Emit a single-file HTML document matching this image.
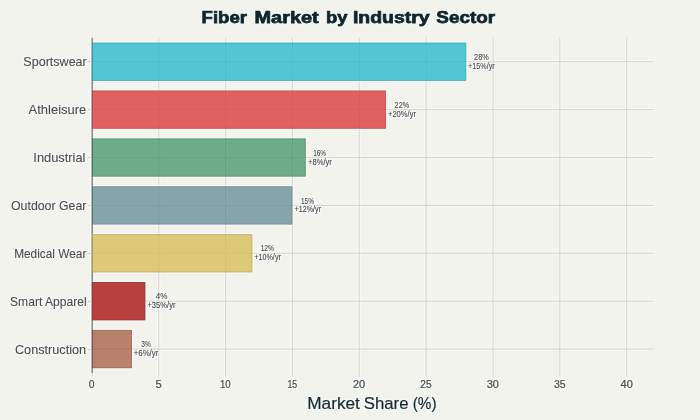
<!DOCTYPE html>
<html><head><meta charset="utf-8"><style>
html,body{margin:0;padding:0;background:#F3F3EE;overflow:hidden;}
svg{display:block;will-change:transform;font-family:"Liberation Sans",Arial,sans-serif;}

</style></head><body>
<svg width="700" height="420" viewBox="0 0 700 420">
<rect x="0" y="0" width="700" height="420" fill="#F3F3EE"/>
<line x1="157.65" y1="37.8" x2="157.65" y2="376.5" stroke="#F8F8F5" stroke-width="1"/>
<line x1="159.85" y1="37.8" x2="159.85" y2="376.5" stroke="#F8F8F5" stroke-width="1"/>
<line x1="224.50" y1="37.8" x2="224.50" y2="376.5" stroke="#F8F8F5" stroke-width="1"/>
<line x1="226.70" y1="37.8" x2="226.70" y2="376.5" stroke="#F8F8F5" stroke-width="1"/>
<line x1="291.35" y1="37.8" x2="291.35" y2="376.5" stroke="#F8F8F5" stroke-width="1"/>
<line x1="293.55" y1="37.8" x2="293.55" y2="376.5" stroke="#F8F8F5" stroke-width="1"/>
<line x1="358.20" y1="37.8" x2="358.20" y2="376.5" stroke="#F8F8F5" stroke-width="1"/>
<line x1="360.40" y1="37.8" x2="360.40" y2="376.5" stroke="#F8F8F5" stroke-width="1"/>
<line x1="425.05" y1="37.8" x2="425.05" y2="376.5" stroke="#F8F8F5" stroke-width="1"/>
<line x1="427.25" y1="37.8" x2="427.25" y2="376.5" stroke="#F8F8F5" stroke-width="1"/>
<line x1="491.90" y1="37.8" x2="491.90" y2="376.5" stroke="#F8F8F5" stroke-width="1"/>
<line x1="494.10" y1="37.8" x2="494.10" y2="376.5" stroke="#F8F8F5" stroke-width="1"/>
<line x1="558.75" y1="37.8" x2="558.75" y2="376.5" stroke="#F8F8F5" stroke-width="1"/>
<line x1="560.95" y1="37.8" x2="560.95" y2="376.5" stroke="#F8F8F5" stroke-width="1"/>
<line x1="625.60" y1="37.8" x2="625.60" y2="376.5" stroke="#F8F8F5" stroke-width="1"/>
<line x1="627.80" y1="37.8" x2="627.80" y2="376.5" stroke="#F8F8F5" stroke-width="1"/>
<line x1="91.90" y1="60.64" x2="653.5" y2="60.64" stroke="#F8F8F5" stroke-width="1"/>
<line x1="91.90" y1="62.84" x2="653.5" y2="62.84" stroke="#F8F8F5" stroke-width="1"/>
<line x1="91.90" y1="108.53" x2="653.5" y2="108.53" stroke="#F8F8F5" stroke-width="1"/>
<line x1="91.90" y1="110.73" x2="653.5" y2="110.73" stroke="#F8F8F5" stroke-width="1"/>
<line x1="91.90" y1="156.41" x2="653.5" y2="156.41" stroke="#F8F8F5" stroke-width="1"/>
<line x1="91.90" y1="158.61" x2="653.5" y2="158.61" stroke="#F8F8F5" stroke-width="1"/>
<line x1="91.90" y1="204.30" x2="653.5" y2="204.30" stroke="#F8F8F5" stroke-width="1"/>
<line x1="91.90" y1="206.50" x2="653.5" y2="206.50" stroke="#F8F8F5" stroke-width="1"/>
<line x1="91.90" y1="252.19" x2="653.5" y2="252.19" stroke="#F8F8F5" stroke-width="1"/>
<line x1="91.90" y1="254.39" x2="653.5" y2="254.39" stroke="#F8F8F5" stroke-width="1"/>
<line x1="91.90" y1="300.07" x2="653.5" y2="300.07" stroke="#F8F8F5" stroke-width="1"/>
<line x1="91.90" y1="302.27" x2="653.5" y2="302.27" stroke="#F8F8F5" stroke-width="1"/>
<line x1="91.90" y1="347.96" x2="653.5" y2="347.96" stroke="#F8F8F5" stroke-width="1"/>
<line x1="91.90" y1="350.16" x2="653.5" y2="350.16" stroke="#F8F8F5" stroke-width="1"/>
<line x1="158.75" y1="37.8" x2="158.75" y2="376.5" stroke="#D6D2D0" stroke-width="1"/>
<line x1="225.60" y1="37.8" x2="225.60" y2="376.5" stroke="#D6D2D0" stroke-width="1"/>
<line x1="292.45" y1="37.8" x2="292.45" y2="376.5" stroke="#D6D2D0" stroke-width="1"/>
<line x1="359.30" y1="37.8" x2="359.30" y2="376.5" stroke="#D6D2D0" stroke-width="1"/>
<line x1="426.15" y1="37.8" x2="426.15" y2="376.5" stroke="#D6D2D0" stroke-width="1"/>
<line x1="493.00" y1="37.8" x2="493.00" y2="376.5" stroke="#D6D2D0" stroke-width="1"/>
<line x1="559.85" y1="37.8" x2="559.85" y2="376.5" stroke="#D6D2D0" stroke-width="1"/>
<line x1="626.70" y1="37.8" x2="626.70" y2="376.5" stroke="#D6D2D0" stroke-width="1"/>
<line x1="91.90" y1="61.74" x2="653.5" y2="61.74" stroke="#D6D2D0" stroke-width="1"/>
<line x1="91.90" y1="109.63" x2="653.5" y2="109.63" stroke="#D6D2D0" stroke-width="1"/>
<line x1="91.90" y1="157.51" x2="653.5" y2="157.51" stroke="#D6D2D0" stroke-width="1"/>
<line x1="91.90" y1="205.40" x2="653.5" y2="205.40" stroke="#D6D2D0" stroke-width="1"/>
<line x1="91.90" y1="253.29" x2="653.5" y2="253.29" stroke="#D6D2D0" stroke-width="1"/>
<line x1="91.90" y1="301.17" x2="653.5" y2="301.17" stroke="#D6D2D0" stroke-width="1"/>
<line x1="91.90" y1="349.06" x2="653.5" y2="349.06" stroke="#D6D2D0" stroke-width="1"/>
<line x1="90.6" y1="37.8" x2="90.6" y2="373.0" stroke="#FFFFFF" stroke-opacity="0.7" stroke-width="1"/>
<line x1="92.2" y1="37.8" x2="92.2" y2="373.0" stroke="#76797C" stroke-width="1.3"/>
<line x1="92.2" y1="373.0" x2="92.2" y2="376.5" stroke="#D6D2D0" stroke-width="1"/>
<path d="M93 42.09H466.76V81.40H93" fill="none" stroke="#FFFFFF" stroke-opacity="0.65" stroke-width="1"/>
<rect x="91.90" y="42.59" width="374.36" height="38.31" fill="#1FB8CD" fill-opacity="0.76"/>
<rect x="92.40" y="43.09" width="373.36" height="37.31" fill="none" stroke="#000" stroke-opacity="0.11" stroke-width="1"/>
<path d="M93 89.97H386.54V129.28H93" fill="none" stroke="#FFFFFF" stroke-opacity="0.65" stroke-width="1"/>
<rect x="91.90" y="90.47" width="294.14" height="38.31" fill="#DB4545" fill-opacity="0.84"/>
<rect x="92.40" y="90.97" width="293.14" height="37.31" fill="none" stroke="#000" stroke-opacity="0.11" stroke-width="1"/>
<path d="M93 137.86H306.32V177.17H93" fill="none" stroke="#FFFFFF" stroke-opacity="0.65" stroke-width="1"/>
<rect x="91.90" y="138.36" width="213.92" height="38.31" fill="#2E8B57" fill-opacity="0.68"/>
<rect x="92.40" y="138.86" width="212.92" height="37.31" fill="none" stroke="#000" stroke-opacity="0.11" stroke-width="1"/>
<path d="M93 185.75H292.95V225.05H93" fill="none" stroke="#FFFFFF" stroke-opacity="0.65" stroke-width="1"/>
<rect x="91.90" y="186.25" width="200.55" height="38.31" fill="#5D878F" fill-opacity="0.72"/>
<rect x="92.40" y="186.75" width="199.55" height="37.31" fill="none" stroke="#000" stroke-opacity="0.11" stroke-width="1"/>
<path d="M93 233.63H252.84V272.94H93" fill="none" stroke="#FFFFFF" stroke-opacity="0.65" stroke-width="1"/>
<rect x="91.90" y="234.13" width="160.44" height="38.31" fill="#D2BA4C" fill-opacity="0.72"/>
<rect x="92.40" y="234.63" width="159.44" height="37.31" fill="none" stroke="#000" stroke-opacity="0.11" stroke-width="1"/>
<path d="M93 281.52H145.88V320.83H93" fill="none" stroke="#FFFFFF" stroke-opacity="0.65" stroke-width="1"/>
<rect x="91.90" y="282.02" width="53.48" height="38.31" fill="#B63B39" fill-opacity="0.97"/>
<rect x="92.40" y="282.52" width="52.48" height="37.31" fill="none" stroke="#000" stroke-opacity="0.11" stroke-width="1"/>
<path d="M93 329.40H132.51V368.71H93" fill="none" stroke="#FFFFFF" stroke-opacity="0.65" stroke-width="1"/>
<rect x="91.90" y="329.90" width="40.11" height="38.31" fill="#964325" fill-opacity="0.65"/>
<rect x="92.40" y="330.40" width="39.11" height="37.31" fill="none" stroke="#000" stroke-opacity="0.11" stroke-width="1"/>
<line x1="88" y1="61.5" x2="91.5" y2="61.5" stroke="#D2D2CE" stroke-width="1"/>
<line x1="88" y1="109.5" x2="91.5" y2="109.5" stroke="#D2D2CE" stroke-width="1"/>
<line x1="88" y1="157.5" x2="91.5" y2="157.5" stroke="#D2D2CE" stroke-width="1"/>
<line x1="88" y1="205.5" x2="91.5" y2="205.5" stroke="#D2D2CE" stroke-width="1"/>
<line x1="88" y1="253.5" x2="91.5" y2="253.5" stroke="#D2D2CE" stroke-width="1"/>
<line x1="88" y1="301.5" x2="91.5" y2="301.5" stroke="#D2D2CE" stroke-width="1"/>
<line x1="88" y1="349.5" x2="91.5" y2="349.5" stroke="#D2D2CE" stroke-width="1"/>
<defs><filter id="halo" x="-5%" y="-40%" width="110%" height="180%" color-interpolation-filters="sRGB"><feMorphology in="SourceAlpha" operator="dilate" radius="1" result="d"/><feFlood flood-color="#FFFFFF" flood-opacity="0.5"/><feComposite in2="d" operator="in" result="h"/><feMerge><feMergeNode in="h"/><feMergeNode in="SourceGraphic"/></feMerge></filter></defs>
<g filter="url(#halo)">
<text y="23.20" font-size="16.9" font-weight="bold" fill="#0C262C" stroke="#0C262C" stroke-width="0.75"><tspan x="201.62" textLength="45.35" lengthAdjust="spacingAndGlyphs">Fiber</tspan> <tspan x="254.54" textLength="64.22" lengthAdjust="spacingAndGlyphs">Market</tspan> <tspan x="325.97" textLength="21.47" lengthAdjust="spacingAndGlyphs">by</tspan> <tspan x="352.98" textLength="76.71" lengthAdjust="spacingAndGlyphs">Industry</tspan> <tspan x="436.34" textLength="58.81" lengthAdjust="spacingAndGlyphs">Sector</tspan></text>
<text y="408.90" font-size="16.6" font-weight="normal" fill="#102A30" stroke="#102A30" stroke-width="0.2"><tspan x="307.29" textLength="52.60" lengthAdjust="spacingAndGlyphs">Market</tspan> <tspan x="363.80" textLength="44.70" lengthAdjust="spacingAndGlyphs">Share</tspan> <tspan x="412.67" textLength="23.92" lengthAdjust="spacingAndGlyphs">(%)</tspan></text>
<text id="y0" x="23.35" y="66.44" font-size="12.4" font-weight="normal" fill="#434B50" stroke="#434B50" stroke-width="0.08" textLength="63.42" lengthAdjust="spacingAndGlyphs">Sportswear</text>
<text id="v0a" x="474.11" y="59.84" font-size="9.0" font-weight="normal" fill="#353D42" stroke="#353D42" stroke-width="0.06" textLength="14.68" lengthAdjust="spacingAndGlyphs">28%</text>
<text id="v0b" x="468.03" y="68.74" font-size="9.0" font-weight="normal" fill="#353D42" stroke="#353D42" stroke-width="0.06" textLength="26.65" lengthAdjust="spacingAndGlyphs">+15%/yr</text>
<text id="y1" x="28.51" y="114.33" font-size="12.4" font-weight="normal" fill="#434B50" stroke="#434B50" stroke-width="0.08" textLength="57.82" lengthAdjust="spacingAndGlyphs">Athleisure</text>
<text id="v1a" x="394.59" y="107.73" font-size="9.0" font-weight="normal" fill="#353D42" stroke="#353D42" stroke-width="0.06" textLength="14.58" lengthAdjust="spacingAndGlyphs">22%</text>
<text id="v1b" x="387.96" y="116.63" font-size="9.0" font-weight="normal" fill="#353D42" stroke="#353D42" stroke-width="0.06" textLength="28.02" lengthAdjust="spacingAndGlyphs">+20%/yr</text>
<text id="y2" x="33.36" y="162.21" font-size="12.4" font-weight="normal" fill="#434B50" stroke="#434B50" stroke-width="0.08" textLength="52.09" lengthAdjust="spacingAndGlyphs">Industrial</text>
<text id="v2a" x="313.15" y="155.61" font-size="9.0" font-weight="normal" fill="#353D42" stroke="#353D42" stroke-width="0.06" textLength="12.93" lengthAdjust="spacingAndGlyphs">16%</text>
<text id="v2b" x="307.98" y="164.51" font-size="9.0" font-weight="normal" fill="#353D42" stroke="#353D42" stroke-width="0.06" textLength="23.90" lengthAdjust="spacingAndGlyphs">+8%/yr</text>
<text id="y3" x="11.02" y="210.10" font-size="12.4" font-weight="normal" fill="#434B50" stroke="#434B50" stroke-width="0.08" textLength="75.39" lengthAdjust="spacingAndGlyphs">Outdoor Gear</text>
<text id="v3a" x="300.95" y="203.50" font-size="9.0" font-weight="normal" fill="#353D42" stroke="#353D42" stroke-width="0.06" textLength="12.97" lengthAdjust="spacingAndGlyphs">15%</text>
<text id="v3b" x="294.57" y="212.40" font-size="9.0" font-weight="normal" fill="#353D42" stroke="#353D42" stroke-width="0.06" textLength="26.53" lengthAdjust="spacingAndGlyphs">+12%/yr</text>
<text id="y4" x="14.16" y="257.99" font-size="12.4" font-weight="normal" fill="#434B50" stroke="#434B50" stroke-width="0.08" textLength="72.19" lengthAdjust="spacingAndGlyphs">Medical Wear</text>
<text id="v4a" x="260.67" y="251.39" font-size="9.0" font-weight="normal" fill="#353D42" stroke="#353D42" stroke-width="0.06" textLength="13.37" lengthAdjust="spacingAndGlyphs">12%</text>
<text id="v4b" x="254.19" y="260.29" font-size="9.0" font-weight="normal" fill="#353D42" stroke="#353D42" stroke-width="0.06" textLength="26.72" lengthAdjust="spacingAndGlyphs">+10%/yr</text>
<text id="y5" x="10.07" y="305.87" font-size="12.4" font-weight="normal" fill="#434B50" stroke="#434B50" stroke-width="0.08" textLength="76.54" lengthAdjust="spacingAndGlyphs">Smart Apparel</text>
<text id="v5a" x="155.67" y="299.27" font-size="9.0" font-weight="normal" fill="#353D42" stroke="#353D42" stroke-width="0.06" textLength="11.70" lengthAdjust="spacingAndGlyphs">4%</text>
<text id="v5b" x="147.39" y="308.17" font-size="9.0" font-weight="normal" fill="#353D42" stroke="#353D42" stroke-width="0.06" textLength="28.11" lengthAdjust="spacingAndGlyphs">+35%/yr</text>
<text id="y6" x="14.96" y="353.76" font-size="12.4" font-weight="normal" fill="#434B50" stroke="#434B50" stroke-width="0.08" textLength="71.22" lengthAdjust="spacingAndGlyphs">Construction</text>
<text id="v6a" x="141.22" y="347.16" font-size="9.0" font-weight="normal" fill="#353D42" stroke="#353D42" stroke-width="0.06" textLength="9.70" lengthAdjust="spacingAndGlyphs">3%</text>
<text id="v6b" x="133.77" y="356.06" font-size="9.0" font-weight="normal" fill="#353D42" stroke="#353D42" stroke-width="0.06" textLength="24.49" lengthAdjust="spacingAndGlyphs">+6%/yr</text>
<text id="x0" x="88.88" y="388.00" font-size="10.0" font-weight="normal" fill="#434B50" stroke="#434B50" stroke-width="0.2" textLength="5.74" lengthAdjust="spacingAndGlyphs">0</text>
<text id="x5" x="155.59" y="388.00" font-size="10.0" font-weight="normal" fill="#434B50" stroke="#434B50" stroke-width="0.2" textLength="6.22" lengthAdjust="spacingAndGlyphs">5</text>
<text id="x10" x="219.99" y="388.00" font-size="10.0" font-weight="normal" fill="#434B50" stroke="#434B50" stroke-width="0.2" textLength="10.68" lengthAdjust="spacingAndGlyphs">10</text>
<text id="x15" x="287.43" y="388.00" font-size="10.0" font-weight="normal" fill="#434B50" stroke="#434B50" stroke-width="0.2" textLength="9.73" lengthAdjust="spacingAndGlyphs">15</text>
<text id="x20" x="353.02" y="388.00" font-size="10.0" font-weight="normal" fill="#434B50" stroke="#434B50" stroke-width="0.2" textLength="12.19" lengthAdjust="spacingAndGlyphs">20</text>
<text id="x25" x="420.38" y="388.00" font-size="10.0" font-weight="normal" fill="#434B50" stroke="#434B50" stroke-width="0.2" textLength="11.35" lengthAdjust="spacingAndGlyphs">25</text>
<text id="x30" x="486.72" y="388.00" font-size="10.0" font-weight="normal" fill="#434B50" stroke="#434B50" stroke-width="0.2" textLength="12.30" lengthAdjust="spacingAndGlyphs">30</text>
<text id="x35" x="554.03" y="388.00" font-size="10.0" font-weight="normal" fill="#434B50" stroke="#434B50" stroke-width="0.2" textLength="11.59" lengthAdjust="spacingAndGlyphs">35</text>
<text id="x40" x="620.55" y="388.00" font-size="10.0" font-weight="normal" fill="#434B50" stroke="#434B50" stroke-width="0.2" textLength="12.22" lengthAdjust="spacingAndGlyphs">40</text>
</g>
</svg>
</body></html>
